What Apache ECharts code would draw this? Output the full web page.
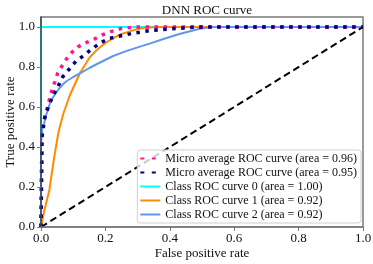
<!DOCTYPE html>
<html>
<head>
<meta charset="utf-8">
<script src="https://cdn.jsdelivr.net/npm/echarts@6/dist/echarts.min.js"></script>
<style>
  html, body { margin: 0; padding: 0; background: #fff; }
  #main { width: 373px; height: 264px; }
</style>
</head>
<body>
<div id="main"></div>
<script>
// ROC data
const microX = [0, 0.003, 0.007, 0.018, 0.031, 0.052, 0.067, 0.083, 0.1, 0.114, 0.137, 0.16, 0.19, 0.217, 0.25, 0.3, 1.0];
const microY = [0, 0.45, 0.52, 0.585, 0.668, 0.77, 0.81, 0.85, 0.88, 0.9, 0.92, 0.935, 0.96, 0.977, 0.993, 1.0, 1.0];
const macroX = [0, 0.003, 0.012, 0.025, 0.038, 0.052, 0.067, 0.088, 0.109, 0.135, 0.16, 0.186, 0.212, 0.245, 0.28, 0.338, 0.4, 0.49, 1.0];
const macroY = [0, 0.45, 0.55, 0.61, 0.66, 0.70, 0.75, 0.79, 0.83, 0.86, 0.893, 0.922, 0.943, 0.955, 0.967, 0.982, 0.99, 1.0, 1.0];
const class0X = [0, 0, 1];
const class0Y = [0, 1, 1];
const class1X = [0, 0.01, 0.026, 0.041, 0.055, 0.07, 0.09, 0.121, 0.152, 0.173, 0.2, 0.225, 0.25, 0.276, 0.3, 0.33, 0.38, 0.45, 1.0];
const class1Y = [0, 0.08, 0.185, 0.35, 0.48, 0.57, 0.66, 0.77, 0.85, 0.885, 0.92, 0.945, 0.965, 0.978, 0.99, 0.997, 1.0, 1.0, 1.0];
const class2X = [0, 0, 0.004, 0.01, 0.016, 0.028, 0.038, 0.055, 0.069, 0.08, 0.1, 0.121, 0.15, 0.18, 0.224, 0.26, 0.3, 0.34, 0.38, 0.43, 0.49, 0.53, 1.0];
const class2Y = [0, 0.42, 0.49, 0.52, 0.56, 0.62, 0.65, 0.69, 0.715, 0.73, 0.75, 0.768, 0.795, 0.82, 0.855, 0.877, 0.898, 0.918, 0.94, 0.965, 0.99, 1.0, 1.0];
const chanceX = [0, 1];
const chanceY = [0, 1];

const names = [
  'Micro average ROC curve (area = 0.96)',
  'Micro average ROC curve (area = 0.95)',
  'Class ROC curve 0 (area = 1.00)',
  'Class ROC curve 1 (area = 0.92)',
  'Class ROC curve 2 (area = 0.92)'
];
const yTicks = [0, 0.2, 0.4, 0.6, 0.8, 1.0];

function pairs(xs, ys) {
  return xs.map(function (x, i) { return [x, ys[i]]; });
}

const font = 'Liberation Serif';
const frame = '#7a7a7a';

function line(name, xs, ys, color, width, type) {
  return {
    name: name,
    type: 'line',
    data: pairs(xs, ys),
    symbol: 'none',
    silent: true,
    lineStyle: { color: color, width: width, type: type || 'solid' },
    itemStyle: { color: color }
  };
}

// dotted handles in the legend only show two dots
const legendData = names.map(function (n, i) {
  return i < 2 ? { name: n, lineStyle: { type: [4, 7.5] } } : { name: n };
});

let myChart = echarts.init(document.getElementById('main'));
myChart.setOption({
  animation: false,
  backgroundColor: '#fff',
  title: {
    text: 'DNN ROC curve',
    left: 202,
    top: -1,
    textAlign: 'center',
    textStyle: { fontFamily: font, fontSize: 13, fontWeight: 'normal', color: '#111' }
  },
  grid: {
    left: 41, right: 10, top: 17, bottom: 37,
    containLabel: false,
    outerBoundsMode: 'none',
    show: true, borderColor: frame, borderWidth: 1.5, backgroundColor: 'transparent'
  },
  legend: {
    data: legendData,
    orient: 'vertical',
    right: 12,
    top: 150,
    z: 10,
    itemWidth: 20,
    itemHeight: 10,
    itemGap: 1,
    padding: [2, 4, 2, 2],
    backgroundColor: 'rgba(255,255,255,0.8)',
    borderColor: '#d0d0d0',
    borderWidth: 1,
    borderRadius: 3,
    itemStyle: { opacity: 0 },
    textStyle: { fontFamily: font, fontSize: 12, lineHeight: 13, color: '#111' }
  },
  xAxis: {
    type: 'value',
    z: 5,
    min: 0, max: 1, interval: 0.2,
    name: 'False positive rate',
    nameLocation: 'middle',
    nameGap: 20,
    nameMoveOverlap: false,
    nameTextStyle: { fontFamily: font, fontSize: 13, color: '#111' },
    axisLine: { lineStyle: { color: frame, width: 1.5 } },
    axisTick: { length: 4, lineStyle: { color: frame } },
    axisLabel: { fontFamily: font, fontSize: 13, color: '#111', margin: 5,
      formatter: function (v) { return v.toFixed(1); } },
    splitLine: { show: false }
  },
  yAxis: {
    type: 'value',
    z: 5,
    min: 0, max: 1.05,
    name: 'True positive rate',
    nameLocation: 'middle',
    nameGap: 24,
    nameMoveOverlap: false,
    nameTextStyle: { fontFamily: font, fontSize: 13, color: '#111' },
    axisLine: { show: true, lineStyle: { color: '#3a4a4a', width: 1.5 } },
    axisTick: { show: true, length: 4, lineStyle: { color: frame }, customValues: yTicks },
    axisLabel: { fontFamily: font, fontSize: 13, color: '#111', margin: 6, customValues: yTicks,
      formatter: function (v) { return v.toFixed(1); } },
    splitLine: { show: false }
  },
  series: [
    line(names[2], class0X, class0Y, '#00ffff', 2),
    line(names[3], class1X, class1Y, '#ff8c00', 2),
    line(names[4], class2X, class2Y, '#6495ed', 2),
    line(names[0], microX, microY, '#ff1493', 3.5, [3.5, 5.5]),
    line(names[1], macroX, macroY, '#000080', 3.5, [3.5, 5.5]),
    line('chance', chanceX, chanceY, '#000', 2, [7, 4])
  ]
});
</script>
</body>
</html>
